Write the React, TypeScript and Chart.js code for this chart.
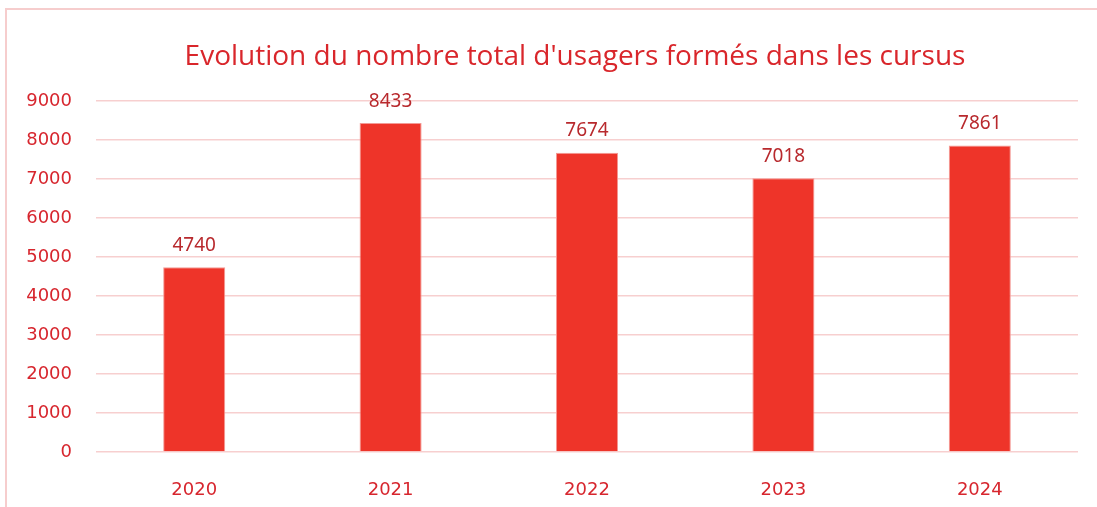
import React, { useEffect, useRef } from "react";
import { Chart, registerables } from "chart.js";

Chart.register(...registerables);

const categories = ["2020", "2021", "2022", "2023", "2024"];
const values = [4740, 8433, 7674, 7018, 7861];
const titleText = "Evolution du nombre total d'usagers formés dans les cursus";

const frame = {
  id: "frame",
  beforeDraw(chart: any) {
    const ctx = chart.ctx;
    ctx.save();
    ctx.strokeStyle = "#F6CDCD";
    ctx.lineWidth = 2;
    ctx.beginPath();
    ctx.moveTo(6, 507);
    ctx.lineTo(6, 9);
    ctx.lineTo(1097, 9);
    ctx.stroke();
    ctx.restore();
  },
};

const titlePlugin = {
  id: "titleText",
  afterDraw(chart: any) {
    const ctx = chart.ctx;
    ctx.save();
    ctx.fillStyle = "#D9262B";
    ctx.font = "28px 'Open Sans'";
    ctx.textAlign = "center";
    ctx.textBaseline = "middle";
    ctx.fillText(titleText, 575, 57);
    ctx.restore();
  },
};

const dataLabels = {
  id: "dataLabels",
  afterDatasetsDraw(chart: any) {
    const ctx = chart.ctx;
    const meta = chart.getDatasetMeta(0);
    ctx.save();
    ctx.fillStyle = "#B8292D";
    ctx.font = "19px 'Noto Sans'";
    ctx.textAlign = "center";
    ctx.textBaseline = "middle";
    meta.data.forEach((bar: any, i: number) => {
      ctx.fillText(String(chart.data.datasets[0].data[i]), bar.x, bar.y - 22);
    });
    ctx.restore();
  },
};

export default function App() {
  const ref = useRef<HTMLCanvasElement>(null);
  useEffect(() => {
    const chart = new Chart(ref.current!, {
      type: "bar",
      data: {
        labels: categories,
        datasets: [
          {
            data: values,
            backgroundColor: "#EE3429",
            borderColor: "#F39A95",
            borderWidth: 1,
            barPercentage: 0.316,
            categoryPercentage: 1,
          },
        ],
      },
      options: {
        animation: false,
        responsive: false,
        layout: { padding: { top: 101, right: 19, bottom: 0, left: 0 } },
        plugins: {
          legend: { display: false },
          tooltip: { enabled: false },
          title: { display: false },
        },
        scales: {
          x: {
            grid: { display: false },
            border: { display: false },
            ticks: {
              color: "#D7262E",
              font: { family: "DejaVu Sans", size: 18 },
              padding: 20,
            },
            afterFit(scale: any) {
              scale.height = 55;
            },
          },
          y: {
            min: 0,
            max: 9000,
            grid: { color: "#F7CFCF", lineWidth: 1.5, drawTicks: false },
            border: { display: false },
            ticks: {
              stepSize: 1000,
              color: "#D7262E",
              font: { family: "DejaVu Sans", size: 18 },
              padding: 24,
              callback: (v: any) => String(v),
            },
            afterFit(scale: any) {
              scale.width = 96;
            },
          },
        },
      },
      plugins: [frame, titlePlugin, dataLabels],
    });
    return () => chart.destroy();
  }, []);
  return (
    <div style={{ position: "fixed", left: 0, top: 0, width: 1097, height: 507, background: "#fff" }}>
      <canvas ref={ref} width={1097} height={507} />
    </div>
  );
}
